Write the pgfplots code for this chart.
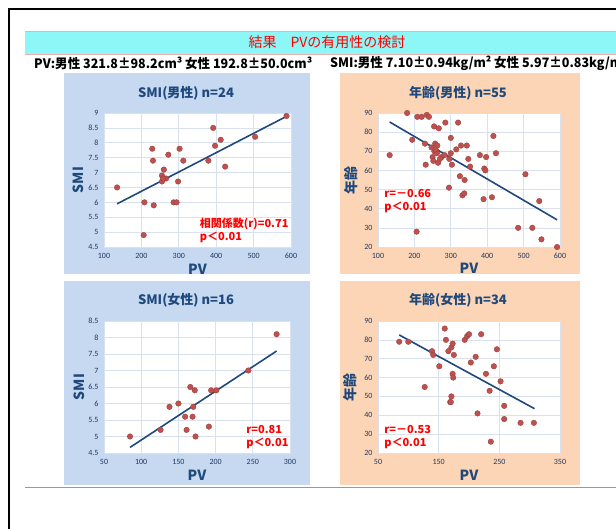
\documentclass[border=0pt]{standalone}
\usepackage{pgfplots}
\pgfplotsset{compat=1.18}
\usepackage{fontspec}
\usepackage{graphicx}
\setmainfont{Carlito}
\newfontfamily\jp{Noto Sans CJK JP}
\newfontfamily\calfont{Carlito}
\definecolor{panelblue}{HTML}{C6D9F1}
\definecolor{panelorange}{HTML}{FBD5B5}
\definecolor{navy}{HTML}{1F497D}
\definecolor{ticknavy}{HTML}{1F3864}
\definecolor{gridc}{HTML}{D9E1EE}
\definecolor{dotred}{HTML}{C0504D}
\definecolor{banner}{HTML}{8DF7F7}
\definecolor{linered}{HTML}{E07B7B}
\pgfplotsset{
 panel/.style={
  scale only axis, anchor=south west,
  axis background/.style={fill=white},
  xmajorgrids, ymajorgrids,
  major grid style={draw=gridc, line width=0.7pt},
  axis line style={draw=gridc, line width=0.7pt},
  major tick length=0pt,
  tick style={draw=none},
  /pgf/number format/assume math mode=true,
  tick label style={font=\fontsize{8}{9}\selectfont\calfont, text=ticknavy},
  xticklabel style={yshift=-3pt},
  yticklabel style={xshift=-2pt},
  label style={font=\jp\bfseries\fontsize{14}{16}\selectfont, text=navy},
  clip=false,
 },
 dots/.style={only marks, mark=*, mark size=2.8pt, mark options={fill=dotred, draw=dotred!75!black, line width=0.3pt}},
 fit/.style={navy, line width=1.6pt, no marks},
}
\tikzset{stat/.style={font=\jp\bfseries\fontsize{11}{12}\selectfont, text=red, anchor=west, inner sep=0pt}}
\newlength\subA
\newsavebox\subbox
\begin{document}
\sbox\subbox{\jp\bfseries\fontsize{13}{14}\selectfont PV:男性 321.8±98.2cm³ 女性 192.8±50.0cm³}%
\setlength\subA{\wd\subbox}%
\pgfmathsetmacro\subfac{278/\subA}%
\begin{tikzpicture}[x=1pt,y=1pt]
\useasboundingbox (0,0) rectangle (616,528);
\clip (0,0) rectangle (616,528);
\fill[white] (0,0) rectangle (616,528);
% frame
\draw[black, line width=1.6pt] (9,-2) -- (9,519) -- (620,519);
% banner
\fill[banner] (25,474) rectangle (620,497);
\draw[linered!60, line width=0.6pt] (25,497) -- (620,497);
\draw[linered!60, line width=0.6pt] (25,474) -- (620,474);
\node[font=\jp\fontsize{14}{16}\selectfont, text=red] at (327,485.5) {結果　PVの有用性の検討};
% subtitle
\node[anchor=west, inner sep=0pt, font=\jp\bfseries\fontsize{13}{14}\selectfont] at (34,465) {\scalebox{\subfac}[1]{PV:男性 321.8±98.2cm³ 女性 192.8±50.0cm³}};
\node[anchor=west, inner sep=0pt, font=\jp\bfseries\fontsize{13}{14}\selectfont] at (330,465) {\scalebox{\subfac}[1]{SMI:男性 7.10±0.94kg/m² 女性 5.97±0.83kg/m²}};
% panels
\fill[panelblue] (64,254) rectangle (310,455);
\fill[panelorange] (340,254) rectangle (580,455);
\fill[panelblue] (64,43) rectangle (310,247);
\fill[panelorange] (340,43) rectangle (580,247);
\draw[linered, line width=0.8pt] (25,41) -- (620,41);
% titles
\node[font=\jp\bfseries\fontsize{13}{14}\selectfont, text=navy] at (186,435) {SMI(男性) n=24};
\node[font=\jp\bfseries\fontsize{13}{14}\selectfont, text=navy] at (458,435) {年齢(男性) n=55};
\node[font=\jp\bfseries\fontsize{13}{14}\selectfont, text=navy] at (186,228) {SMI(女性) n=16};
\node[font=\jp\bfseries\fontsize{13}{14}\selectfont, text=navy] at (458,228) {年齢(女性) n=34};

% plot 1
\begin{axis}[panel, at={(104pt,281pt)}, width=187pt, height=134pt,
 xmin=100, xmax=600, ymin=4.5, ymax=9,
 xtick={100,200,300,400,500,600}, ytick={4.5,5,5.5,6,6.5,7,7.5,8,8.5,9},
 xlabel={PV}, ylabel={SMI},
 xlabel style={at={(axis description cs:0.5,-0.165)}, anchor=center},
 ylabel style={at={(axis description cs:-0.135,0.5)}, anchor=center}]
\addplot[dots] coordinates {(135,6.5) (208,6.0) (206,4.9) (229,7.8) (231,7.4) (233,5.9) (272,7.6) (260,7.1) (255,6.9) (255,6.7) (266,6.8) (258,6.8) (286,6.0) (294,6.0) (298,6.7) (302,7.8) (312,7.4) (379,7.4) (392,8.5) (397,7.9) (412,8.1) (424,7.2) (504,8.2) (588,8.9)};
\addplot[fit] coordinates {(135,5.95) (590,8.9)};
\node[stat] at (axis cs:356,5.29) {相関係数(r)=0.71};
\node[stat] at (axis cs:356,4.81) {p＜0.01};
\end{axis}

% plot 2
\begin{axis}[panel, at={(378pt,281pt)}, width=182pt, height=134pt,
 xmin=100, xmax=600, ymin=20, ymax=90,
 xtick={100,200,300,400,500,600}, ytick={20,30,40,50,60,70,80,90},
 xlabel={PV}, ylabel={年齢},
 xlabel style={at={(axis description cs:0.5,-0.16)}, anchor=center},
 ylabel style={at={(axis description cs:-0.148,0.5)}, anchor=center}]
\addplot[dots] coordinates {(132,68) (180,90) (194,76) (208,88) (220,88) (234,89) (240,88) (229,74) (231,63) (254,83) (267,82) (285,85) (320,85) (257,74) (263,73) (250,67) (252,65) (260,70) (265,64) (275,67) (255,70) (300,77) (300,69) (315,71) (328,73) (344,73) (296,66) (303,63) (295,51) (325,57) (338,55) (332,47) (337,48) (348,66) (353,62) (380,68) (397,67) (392,61) (395,60) (417,78) (424,69) (390,45) (413,46) (206,28) (505,58) (485,30) (524,30) (543,44) (549,24) (592,20) (247,72) (262,69) (270,66) (283,68) (258,71)};
\addplot[fit] coordinates {(132,85.3) (592,34.2)};
\node[stat] at (axis cs:117,47.8) {r=－0.66};
\node[stat] at (axis cs:117,40.9) {p＜0.01};
\end{axis}

% plot 3
\begin{axis}[panel, at={(104pt,75pt)}, width=186pt, height=132pt,
 xmin=50, xmax=300, ymin=4.5, ymax=8.5,
 xtick={50,100,150,200,250,300}, ytick={4.5,5,5.5,6,6.5,7,7.5,8,8.5},
 xlabel={PV}, ylabel={SMI},
 xlabel style={at={(axis description cs:0.5,-0.169)}, anchor=center},
 ylabel style={at={(axis description cs:-0.135,0.5)}, anchor=center}]
\addplot[dots] coordinates {(85,5.0) (126,5.2) (138,5.9) (150,6.0) (159,5.6) (161,5.2) (166,6.5) (169,5.6) (170,5.9) (172,6.4) (173,5.0) (191,5.3) (194,6.4) (201,6.4) (244,7.0) (282,8.1)};
\addplot[fit] coordinates {(85,4.67) (282,7.59)};
\node[stat] at (axis cs:241,5.21) {r=0.81};
\node[stat] at (axis cs:241,4.78) {p＜0.01};
\end{axis}

% plot 4
\begin{axis}[panel, at={(378pt,75pt)}, width=182pt, height=132pt,
 xmin=50, xmax=350, ymin=20, ymax=90,
 xtick={50,150,250,350}, ytick={20,30,40,50,60,70,80,90},
 xlabel={PV}, ylabel={年齢},
 xlabel style={at={(axis description cs:0.5,-0.169)}, anchor=center},
 ylabel style={at={(axis description cs:-0.151,0.5)}, anchor=center}]
\addplot[dots] coordinates {(85,79) (100,79) (127,55) (139,74) (141,72) (151,66) (160,86) (162,80) (171,76) (173,78) (166,74) (175,72) (173,62) (174,60) (171,50) (169,47) (170,47) (193,80) (197,82) (200,83) (220,83) (203,68) (211,71) (214,41) (228,62) (234,53) (241,66) (246,75) (252,58) (258,45) (258,38) (236,26) (285,36) (307,36)};
\addplot[fit] coordinates {(85,82.6) (308,43.5)};
\node[stat] at (axis cs:60,32.4) {r=－0.53};
\node[stat] at (axis cs:60,25.1) {p＜0.01};
\end{axis}
\end{tikzpicture}
\end{document}
